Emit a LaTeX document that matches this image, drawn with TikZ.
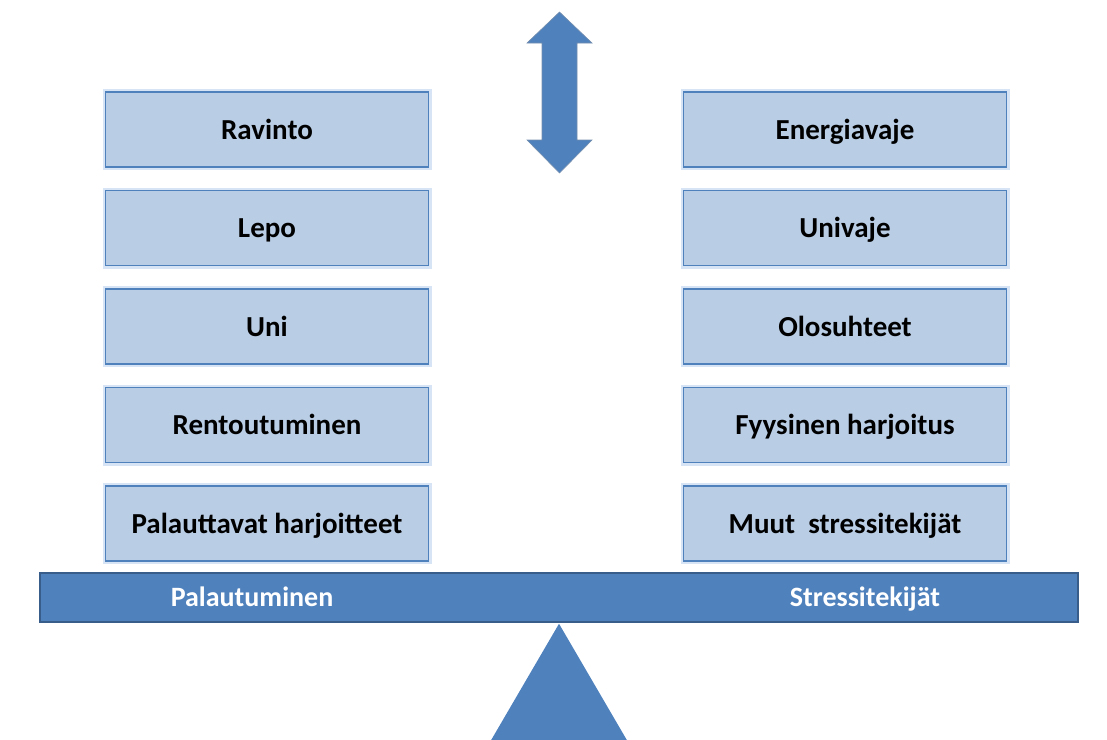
\documentclass[tikz,border=0pt]{standalone}
\usepackage{fontspec}
\setmainfont{Carlito}
\usepackage{tikz}
\usetikzlibrary{positioning}
\definecolor{scaleblue}{RGB}{79, 129, 189}
\definecolor{scaledark}{RGB}{56, 93, 138}
\definecolor{boxfill}{RGB}{185, 205, 229}
\definecolor{glowblue}{RGB}{214, 228, 245}

\begin{document}
\begin{tikzpicture}[
  x=1pt, y=-1pt,
  node distance=22pt,
  factor/.style={rectangle, draw=scaleblue, line width=1.5pt, fill=boxfill,
    preaction={draw=glowblue, line width=6pt},
    minimum width=323pt, minimum height=75pt, align=center,
    text height=19pt, text depth=0pt,
    font=\fontsize{29}{33}\selectfont\bfseries},
  beam/.style={rectangle, draw=scaledark, line width=1.5pt, fill=scaleblue,
    minimum width=1038pt, minimum height=49pt},
  beamtext/.style={text=white, text height=18pt, text depth=0pt,
    font=\fontsize{28}{32}\selectfont\bfseries}
]
  \useasboundingbox (0,0) rectangle (1107,739);

  % recovery side
  \node[factor] (ravinto) at (267,129.5) {Ravinto};
  \node[factor, below=of ravinto] (lepo) {Lepo};
  \node[factor, below=of lepo] (uni) {Uni};
  \node[factor, below=of uni] (rentoutuminen) {Rentoutuminen};
  \node[factor, below=of rentoutuminen] (palauttavat) {Palauttavat harjoitteet};

  % stress side
  \node[factor] (energiavaje) at (845,129.5) {Energiavaje};
  \node[factor, below=of energiavaje] (univaje) {Univaje};
  \node[factor, below=of univaje] (olosuhteet) {Olosuhteet};
  \node[factor, below=of olosuhteet] (fyysinen) {Fyysinen harjoitus};
  \node[factor, below=of fyysinen] (muut) {Muut\ \ stressitekijät};

  % scale
  \node[beam] (beam) at (559,597.5) {};
  \node[beamtext] (palautuminen) at (252,597) {Palautuminen};
  \node[beamtext] (stressitekijat) at (865,597) {Stressitekijät};

  \begin{scope}
    \clip (0,0) rectangle (1107,739);
    \fill[scaleblue] (beam.south) ++(0,1) -- ++(-70,120) -- ++(140,0) -- cycle;
  \end{scope}

  \fill[scaleblue, draw=scaledark!70, line width=0.6pt]
    (559.5,12) -- (592,43) -- (577,43) -- (577,140) -- (592,140)
    -- (559.5,173) -- (527,140) -- (542,140) -- (542,43) -- (527,43) -- cycle;
\end{tikzpicture}
\end{document}
